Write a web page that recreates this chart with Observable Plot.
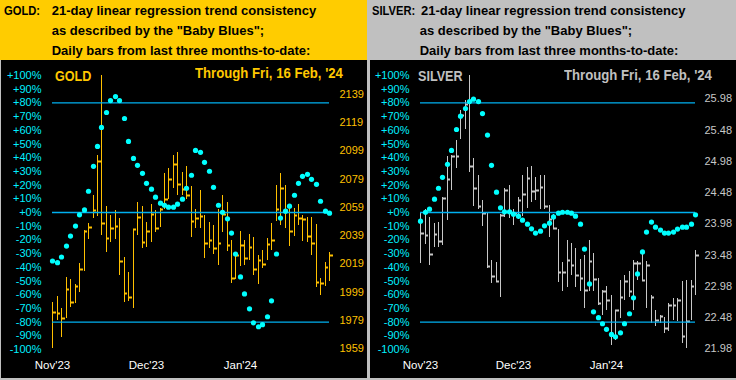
<!DOCTYPE html>
<html><head><meta charset="utf-8">
<script src="https://cdn.jsdelivr.net/npm/d3@7"></script>
<script src="https://cdn.jsdelivr.net/npm/@observablehq/plot@0.6"></script>
<style>
body{margin:0;background:#c0c0c0;}
#root{position:relative;width:736px;height:380px;background:#c0c0c0;overflow:hidden;font-family:"Liberation Sans",Arial,sans-serif;}
.hdr{position:absolute;top:0;height:60px;}
.t{position:absolute;white-space:nowrap;font-weight:bold;font-size:13px;line-height:13px;color:#000;}
.pre{transform-origin:0 0;transform:scaleX(0.86);}
.panel{position:absolute;top:60px;width:366px;height:318px;background:#000;overflow:hidden;}
.panel svg{position:absolute;left:0;top:0;}
.lab{position:absolute;white-space:nowrap;font-weight:bold;font-size:14px;line-height:14px;transform-origin:0 0;}
</style></head><body>
<div id="root">
  <div class="hdr" style="left:0;width:367px;background:#ffcc00"></div>
  <div class="hdr" style="left:369px;width:367px;background:#c0c0c0"></div>
  <div class="t pre" style="left:4px;top:4px">GOLD:</div>
  <div class="t" style="left:51.7px;top:4px">21-day linear regression trend consistency</div>
  <div class="t" style="left:51.7px;top:24px">as described by the "Baby Blues";</div>
  <div class="t" style="left:51.7px;top:44px">Daily bars from last three months-to-date:</div>
  <div class="t pre" style="left:372px;top:4px">SILVER:</div>
  <div class="t" style="left:421px;top:4px">21-day linear regression trend consistency</div>
  <div class="t" style="left:419.7px;top:24px">as described by the "Baby Blues";</div>
  <div class="t" style="left:419.7px;top:44px">Daily bars from last three months-to-date:</div>
  <div class="panel" id="gold" style="left:1px"></div>
  <div class="panel" id="silver" style="left:370px"></div>
</div>
<script>
// ---- data ----
const goldHigh = [1991.4,1996.1,1987.7,2009.6,2007.9,2004.2,2019.0,2042.8,2047.5,2067.2,
  2095.5,2152.0,2059.7,2053.1,2056.6,2050.8,2023.7,2012.6,2043.2,2062.5,
  2059.7,2048.4,2060.9,2056.6,2058.5,2083.0,2086.5,2095.5,2097.8,2083.7,
  2087.7,2073.8,2057.8,2070.8,2053.1,2048.4,2046.5,2057.8,2067.2,2062.5,
  2035.5,2027.2,2041.8,2035.5,2039.5,2037.8,2025.3,2028.4,2037.1,2047.9,
  2074.3,2083.0,2074.8,2059.0,2058.3,2060.9,2053.1,2051.9,2051.9,2047.2,
  2008.9,2020.2,2026.8];
const goldLow = [1958.9,1979.0,1967.2,1980.1,1988.4,1990.7,1998.5,2013.3,2036.2,2051.2,
  2052.6,2039.0,2027.2,2034.3,2036.6,2010.7,1991.9,1992.4,1987.7,2039.0,
  2029.6,2030.8,2034.3,2040.9,2044.9,2057.8,2064.4,2072.4,2067.2,2067.2,
  2064.4,2037.8,2043.7,2043.7,2022.5,2029.6,2026.0,2017.8,2041.3,2027.7,
  2004.9,2007.9,2017.3,2017.8,2021.3,2010.7,2004.2,2015.5,2021.3,2028.4,
  2048.9,2046.5,2044.4,2031.2,2038.5,2046.5,2034.8,2034.3,2025.3,2002.5,
  1996.6,2003.2,2006.3];
const goldClose = [1984.4,1983.7,1980.1,2000.6,1991.9,2003.2,2015.0,2041.6,2045.1,2056.6,
  2091.7,2047.9,2037.3,2043.7,2045.3,2020.9,1998.3,1995.0,2043.0,2051.5,
  2033.8,2041.8,2053.6,2044.4,2057.8,2064.9,2079.0,2089.6,2075.5,2071.9,
  2067.7,2049.1,2050.8,2052.6,2033.6,2035.9,2029.6,2033.1,2053.6,2031.7,
  2008.9,2025.3,2031.9,2023.0,2030.3,2015.0,2021.1,2018.7,2032.4,2035.7,
  2057.8,2072.4,2057.1,2041.8,2052.9,2050.8,2050.1,2038.5,2033.6,2006.0,
  2004.9,2016.2,2025.3];
const goldBlues = [-35.4,-36.6,-32.5,-24.5,-17.2,-9.9,-1.7,1.9,15.5,33.7,
  48.2,62.1,73.0,81.7,84.6,81.7,68.6,51.9,39.5,34.4,
  28.6,21.3,17.0,11.2,6.8,5.3,3.9,3.9,6.1,9.7,
  17.7,27.2,45.3,43.9,36.6,30.1,18.4,5.3,0.2,-4.6,
  -15.0,-30.3,-47.0,-59.4,-70.3,-80.5,-83.4,-81.9,-76.1,-64.5,
  -30.3,-4.1,1.0,4.6,12.6,21.3,26.4,27.9,24.2,20.6,
  8.2,1.0,-0.5];

const silverHigh = [24.16,24.21,24.08,23.99,24.00,24.40,25.05,25.07,25.31,25.79,
  25.95,26.35,25.02,24.75,24.35,24.16,23.39,23.36,24.13,24.54,
  24.59,24.21,24.40,24.75,24.88,24.90,24.72,24.75,24.75,24.27,
  24.13,23.89,23.36,23.71,23.66,23.58,23.41,23.47,23.72,23.50,
  23.10,22.91,22.97,22.83,22.59,23.07,23.15,23.22,23.39,23.37,
  23.53,23.37,22.83,22.59,22.51,22.48,22.70,22.78,22.78,23.05,
  23.07,23.07,23.55];
const silverLow = [23.35,23.65,23.31,23.60,23.60,23.64,24.03,24.51,24.86,25.33,
  25.49,24.80,24.25,24.21,23.93,23.26,23.02,23.05,22.80,24.08,
  24.06,23.96,24.05,24.10,24.23,24.32,24.35,24.21,24.21,23.76,
  23.89,23.04,22.89,22.96,23.15,22.96,22.89,22.62,22.89,22.89,
  22.67,22.51,22.59,22.04,22.11,22.46,22.75,22.80,22.59,23.07,
  23.07,22.62,22.38,22.33,22.38,22.22,22.25,22.43,22.41,22.06,
  21.98,22.43,22.83];
const silverClose = [23.83,23.79,23.49,23.81,23.69,24.39,24.69,25.06,25.05,25.71,
  25.89,24.90,24.54,24.26,24.14,23.30,23.14,23.06,24.12,24.51,
  24.18,24.15,24.36,24.45,24.71,24.50,24.51,24.56,24.25,24.05,
  23.90,23.20,23.20,23.40,23.32,23.16,23.10,22.91,23.37,23.09,
  22.71,22.89,22.76,22.20,22.59,22.80,23.05,22.89,23.34,23.34,
  23.07,23.31,22.80,22.43,22.50,22.30,22.67,22.67,22.76,22.17,
  22.42,22.98,23.48];
const silverBlues = [-6.3,0.2,2.4,9.7,17.7,25.7,35.2,45.3,60.6,70.3,
  75.9,81.0,82.7,81.0,72.2,56.5,34.4,14.8,3.4,0.5,
  0.5,-1.2,-2.7,-5.6,-8.5,-11.9,-15.0,-13.6,-9.7,-7.8,
  -3.2,-0.5,0.2,0.2,-0.5,-2.7,-8.5,-26.7,-52.1,-72.5,
  -76.8,-81.2,-85.3,-89.0,-90.7,-87.8,-81.2,-73.9,-62.3,-44.8,
  -28.8,-14.3,-7.0,-10.7,-12.8,-15.0,-15.0,-14.3,-12.1,-10.7,
  -10.7,-8.5,-1.7];

const pctTicks = [100,90,80,70,60,50,40,30,20,10,0,-10,-20,-30,-40,-50,-60,-70,-80,-90,-100];
const refLevels = [80,0,-80];
const goldPriceTicks = [2139,2119,2099,2079,2059,2039,2019,1999,1979,1959];
const silverPriceTicks = [25.98,25.48,24.98,24.48,23.98,23.48,22.98,22.48,21.98];
const monthLabels = ["Nov'23","Dec'23","Jan'24"];
const monthIndex = [0,21,42];

// ---- styles ----
const FONT = "Liberation Sans, Arial, sans-serif";
const BLUE_LINE = "#00b0f0", DOT = "#00ffff", PCT_TEXT = "#00f0ff";
const GOLD = "#ffc000", SILVER = "#c8c8c8";
const W = 366, H = 318;
const fmtPct = d => (d >= 0 ? "+" : "") + d + "%";

function pricePlot(high, low, close, color, ticks, fmt, dom, mT, mL, mR, pad) {
  const rows = close.map((c, i) => ({i, h: high[i], l: low[i], c}));
  return Plot.plot({
    width: W, height: H, marginTop: mT, marginBottom: 29.7, marginLeft: mL, marginRight: mR,
    style: {background: "transparent", fontFamily: FONT, fontSize: "11px"},
    x: {domain: [0, close.length - 1], axis: null, round: true},
    y: {domain: dom, round: true},
    marks: [
      Plot.ruleX(rows, {x: "i", y1: "l", y2: "h", stroke: color, strokeWidth: 1}),
      Plot.ruleY(rows, {y: "c", x1: "i", x2: d => d.i + 0.8, stroke: color, strokeWidth: 2}),
      Plot.axisY({ticks, anchor: "right", tickSize: 0, tickPadding: pad, color, tickFormat: fmt, fontSize: 11})
    ]
  });
}

function pctPlot(blues, mL, mR, pad) {
  const n = blues.length - 1;
  return Plot.plot({
    width: W, height: H, marginTop: 15, marginBottom: 29, marginLeft: mL, marginRight: mR,
    style: {background: "transparent", fontFamily: FONT, fontSize: "11px"},
    x: {domain: [0, n], round: true},
    y: {domain: [-100, 100]},
    marks: [
      Plot.ruleY(refLevels, {y: d => d, x1: () => 0, x2: () => n, stroke: BLUE_LINE, strokeWidth: 1.3}),
      Plot.dot(blues, {x: (d, i) => i, y: d => d, r: 2.6, fill: DOT}),
      Plot.axisY({ticks: pctTicks, anchor: "left", tickSize: 0, tickPadding: pad, color: PCT_TEXT, tickFormat: fmtPct, fontSize: 11}),
      Plot.axisX({ticks: monthIndex, anchor: "bottom", tickSize: 0, tickPadding: 11, color: "#ffffff",
        tickFormat: d => monthLabels[monthIndex.indexOf(d)], fontSize: 11.5})
    ]
  });
}

function label(parent, text, color, left, top, scale) {
  const el = document.createElement("div");
  el.className = "lab";
  el.textContent = text;
  el.style.color = color;
  el.style.left = left + "px";
  el.style.top = top + "px";
  el.style.transform = `scaleX(${scale})`;
  parent.appendChild(el);
}

const g = document.getElementById("gold");
g.appendChild(pricePlot(goldHigh, goldLow, goldClose, GOLD, goldPriceTicks, d => String(d), [1959, 2139], 33.7, 51.3, 37.7, 9.7));
g.appendChild(pctPlot(goldBlues, 51.3, 37.7, 11.3));
label(g, "GOLD", "#ffc800", 54, 9, 0.9);
label(g, "Through Fri, 16 Feb, '24", "#ffc800", 194, 6, 0.94);

const s = document.getElementById("silver");
s.appendChild(pricePlot(silverHigh, silverLow, silverClose, SILVER, silverPriceTicks, d => d.toFixed(2), [21.98, 25.98], 38.3, 50.3, 41, 9));
s.appendChild(pctPlot(silverBlues, 50.3, 41, 11.3));
label(s, "SILVER", "#c0c0c0", 48, 9, 0.9);
label(s, "Through Fri, 16 Feb, '24", "#c0c0c0", 194, 8, 0.94);
</script>
</body></html>
